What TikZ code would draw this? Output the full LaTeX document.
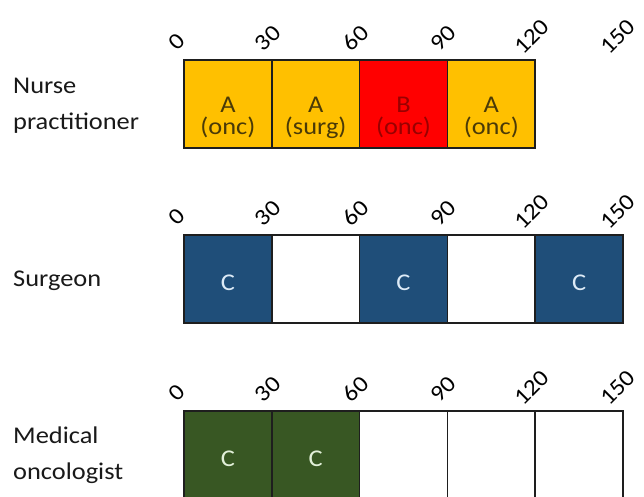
\documentclass[tikz,border=0pt]{standalone}
\usepackage{fontspec}
\setmainfont{Carlito}[FakeStretch=1.1]
\usetikzlibrary{calc}
\definecolor{orng}{HTML}{FFC000}
\definecolor{redc}{HTML}{FF0000}
\definecolor{navy}{HTML}{1F4E79}
\definecolor{grn}{HTML}{385723}
\definecolor{atext}{HTML}{4A3A08}
\definecolor{btext}{HTML}{990000}
\definecolor{ctext}{HTML}{DDEBF7}
\definecolor{gtext}{HTML}{E2F0D9}
\definecolor{edge}{HTML}{1E1E1E}
\begin{document}
\begin{tikzpicture}[x=1pt,y=-1pt,
  cell/.style={draw=edge, line width=1.6pt, minimum width=87.8pt, minimum height=88pt, inner sep=0pt, outer sep=0pt, anchor=north west},
  rowlabel/.style={anchor=west, align=left, inner sep=0pt, font=\fontsize{24}{36}\selectfont, text=black!90},
  tick/.style={rotate=45, anchor=center, inner sep=0pt, font=\fontsize{23}{23}\selectfont},
  intext/.style={anchor=base, inner sep=0pt, font=\fontsize{24}{22}\selectfont}]
\useasboundingbox (0,0) rectangle (644,497);
\clip (0,0) rectangle (644,497);
\fill[white] (0,0) rectangle (644,497);

% Nurse practitioner row
\node[rowlabel] (lab1) at (13,106) {Nurse\\practitioner};
\foreach \i/\col in {0/orng,1/orng,2/redc,3/orng}
  \node[cell, fill=\col] (n\i) at ({184+\i*87.8},60) {};
\foreach \j/\t/\dx/\dy in {0/0/-7/-18,1/30/-4/-22,2/60/-4/-22,3/90/-4/-22,4/120/-3/-23,5/150/-5/-23}
  \node[tick] (nt\j) at ({184+\j*87.8+\dx},{60+\dy}) {\t};
\node[intext, text=atext] (na0) at ($(n0.north)+(0,53)$) {A};
\node[intext, text=atext] (nb0) at ($(n0.north)+(0,75)$) {(onc)};
\node[intext, text=atext] (na1) at ($(n1.north)+(0,53)$) {A};
\node[intext, text=atext] (nb1) at ($(n1.north)+(0,75)$) {(surg)};
\node[intext, text=btext] (na2) at ($(n2.north)+(0,53)$) {B};
\node[intext, text=btext] (nb2) at ($(n2.north)+(0,75)$) {(onc)};
\node[intext, text=atext] (na3) at ($(n3.north)+(0,53)$) {A};
\node[intext, text=atext] (nb3) at ($(n3.north)+(0,75)$) {(onc)};

% Surgeon row
\node[rowlabel] (lab2) at (13,281) {Surgeon};
\foreach \i/\col in {0/navy,1/white,2/navy,3/white,4/navy}
  \node[cell, fill=\col] (s\i) at ({184+\i*87.8},235) {};
\foreach \j/\t/\dx/\dy in {0/0/-7/-18,1/30/-4/-22,2/60/-4/-22,3/90/-4/-22,4/120/-3/-23,5/150/-5/-23}
  \node[tick] (st\j) at ({184+\j*87.8+\dx},{235+\dy}) {\t};
\foreach \i in {0,2,4}
  \node[intext, text=ctext] (sc\i) at ($(s\i.north)+(0,55)$) {C};

% Medical oncologist row
\node[rowlabel] (lab3) at (13,455) {Medical\\oncologist};
\foreach \i/\col in {0/grn,1/grn,2/white,3/white,4/white}
  \node[cell, fill=\col] (m\i) at ({184+\i*87.8},411) {};
\foreach \j/\t/\dx/\dy in {0/0/-7/-18,1/30/-4/-22,2/60/-4/-22,3/90/-4/-22,4/120/-3/-23,5/150/-5/-23}
  \node[tick] (mt\j) at ({184+\j*87.8+\dx},{411+\dy}) {\t};
\foreach \i in {0,1}
  \node[intext, text=gtext] (mc\i) at ($(m\i.north)+(0,55)$) {C};
\end{tikzpicture}
\end{document}
